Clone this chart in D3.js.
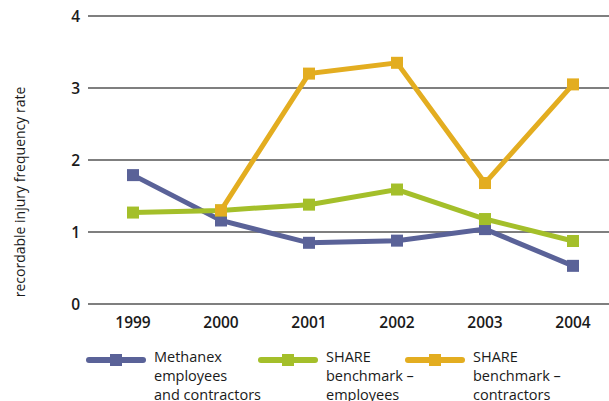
<!DOCTYPE html>
<html>
<head>
<meta charset="utf-8">
<script src="https://cdn.jsdelivr.net/npm/d3@7"></script>
<style>
  body { margin: 0; background: #fff; }
  svg { display: block; font-family: "Open Sans", "Noto Sans", sans-serif; }
</style>
</head>
<body>
<svg id="chart"></svg>
<script>
// 数据
const years = ["1999", "2000", "2001", "2002", "2003", "2004"];
const methanex = [1.79, 1.16, 0.85, 0.88, 1.04, 0.53];
const shareEmployees = [1.27, 1.30, 1.38, 1.59, 1.18, 0.875];
const shareContractors = [null, 1.30, 3.20, 3.35, 1.68, 3.05];
const yTicks = [0, 1, 2, 3, 4];
const seriesNames = [
  ["Methanex", "employees", "and contractors"],
  ["SHARE", "benchmark \u2013", "employees"],
  ["SHARE", "benchmark \u2013", "contractors"]
];
const colors = ["#5a6298", "#a4bf2a", "#e3ad20"];

const width = 609, height = 401;
const svg = d3.select("#chart").attr("width", width).attr("height", height);

const x = d3.scalePoint().domain(years).range([133, 573]);
const y = d3.scaleLinear().domain([0, 4]).range([304, 16]);

// 网格线
svg.append("g")
  .selectAll("line")
  .data(yTicks)
  .join("line")
  .attr("x1", 88).attr("x2", width)
  .attr("y1", d => y(d)).attr("y2", d => y(d))
  .attr("stroke", "#7f7f7f")
  .attr("stroke-width", 2);

// y 轴刻度
svg.append("g")
  .selectAll("text")
  .data(yTicks)
  .join("text")
  .attr("x", 80)
  .attr("y", d => y(d) + 6)
  .attr("text-anchor", "end")
  .attr("font-size", 15.5)
  .attr("font-weight", 600)
  .attr("fill", "#1a1a1a")
  .text(d => d);

// x 轴标签
svg.append("g")
  .selectAll("text")
  .data(years)
  .join("text")
  .attr("x", d => x(d))
  .attr("y", 328)
  .attr("text-anchor", "middle")
  .attr("font-size", 15.5)
  .attr("font-weight", 600)
  .attr("fill", "#1a1a1a")
  .text(d => d);

// y 轴标题
svg.append("text")
  .attr("transform", "translate(25,192) rotate(-90)")
  .attr("text-anchor", "middle")
  .attr("font-size", 14)
  .attr("fill", "#1a1a1a")
  .text("recordable injury frequency rate");

// 折线
const allSeries = [methanex, shareEmployees, shareContractors];
const line = d3.line()
  .defined(d => d.v != null)
  .x(d => x(d.year))
  .y(d => y(d.v));

allSeries.forEach((vals, i) => {
  const pts = vals.map((v, j) => ({ year: years[j], v: v }));
  const g = svg.append("g");
  g.append("path")
    .datum(pts)
    .attr("d", line)
    .attr("fill", "none")
    .attr("stroke", colors[i])
    .attr("stroke-width", 5)
    .attr("stroke-linejoin", "miter");
  g.selectAll("rect")
    .data(pts.filter(d => d.v != null))
    .join("rect")
    .attr("x", d => x(d.year) - 6)
    .attr("y", d => y(d.v) - 6)
    .attr("width", 12)
    .attr("height", 12)
    .attr("fill", colors[i]);
});

// 图例
const legendX = [86, 258, 405];
const legend = svg.append("g")
  .selectAll("g")
  .data(seriesNames)
  .join("g")
  .attr("transform", (d, i) => `translate(${legendX[i]},360)`);

legend.append("line")
  .attr("x1", 3).attr("x2", 57)
  .attr("y1", 0).attr("y2", 0)
  .attr("stroke", (d, i) => colors[i])
  .attr("stroke-width", 6)
  .attr("stroke-linecap", "round");

legend.append("rect")
  .attr("x", 24).attr("y", -6)
  .attr("width", 12).attr("height", 12)
  .attr("fill", (d, i) => colors[i]);

legend.append("text")
  .attr("x", 68)
  .attr("y", 2)
  .attr("font-size", 14.5)
  .attr("font-weight", 500)
  .attr("fill", "#1a1a1a")
  .selectAll("tspan")
  .data(d => d)
  .join("tspan")
  .attr("x", 68)
  .attr("dy", (d, i) => i === 0 ? 0 : 19)
  .text(d => d);
</script>
</body>
</html>
